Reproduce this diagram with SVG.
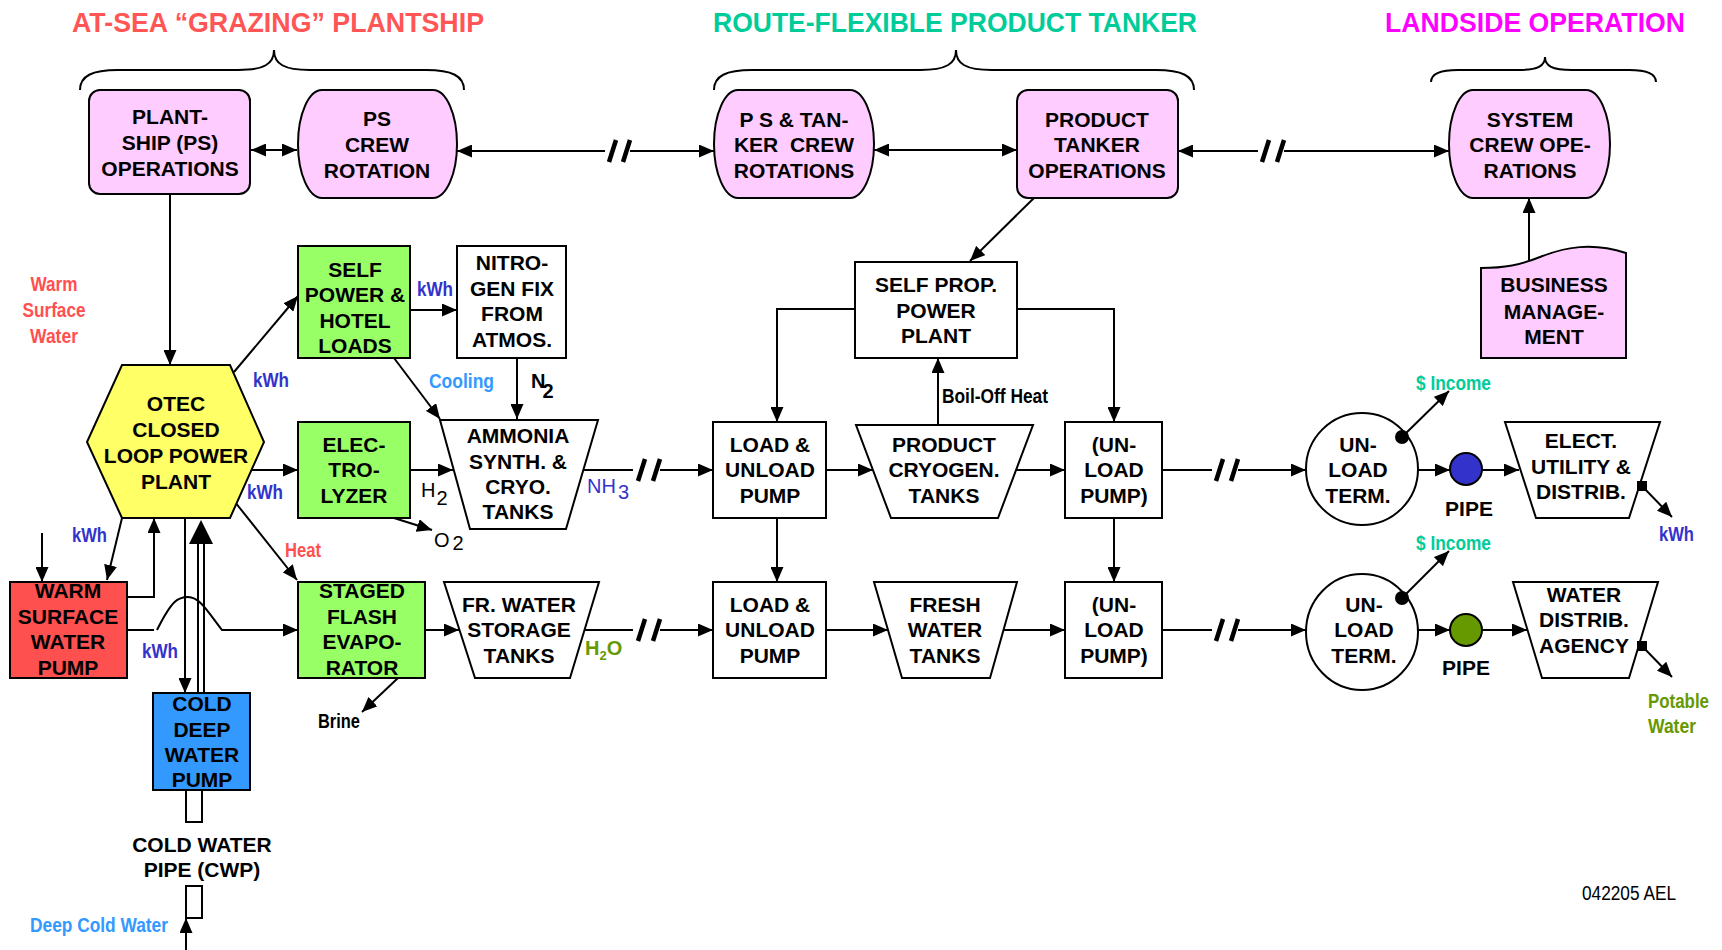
<svg xmlns="http://www.w3.org/2000/svg" width="1722" height="950" viewBox="0 0 1722 950">
<style>
.n{stroke:#000;stroke-width:2}
.pk{fill:#FFCCFF}.gr{fill:#99FF66}.wh{fill:#fff}
.t{font-family:"Liberation Sans",Arial,Helvetica,sans-serif;font-weight:bold;font-size:21px;text-anchor:middle;fill:#000}
.h{font-family:"Liberation Sans",Arial,Helvetica,sans-serif;font-weight:bold;font-size:28px}
.l{font-family:"Liberation Sans",Arial,Helvetica,sans-serif;font-size:20px;font-weight:bold;fill:#000}
.r{font-weight:normal}
.kwh{fill:#3333CC}.red{fill:#FF5050}.lb{fill:#3399FF}.tl{fill:#00CC99}.og{fill:#669900}
.c path,.c line{stroke:#000;stroke-width:2;fill:none}
.c .brk{stroke-width:4.5}
.br{stroke:#000;stroke-width:2;fill:none}
</style>
<defs>
<marker id="a" viewBox="0 0 15 13" refX="15" refY="6.5" markerWidth="15" markerHeight="13" markerUnits="userSpaceOnUse" orient="auto-start-reverse"><path d="M0,0 L15,6.5 L0,13 z" fill="#000"/></marker>
</defs>
<rect width="1722" height="950" fill="#fff"/>

<g id="titles">
<text class="h" x="72" y="32" fill="#FF5555" textLength="412" lengthAdjust="spacingAndGlyphs">AT-SEA “GRAZING” PLANTSHIP</text>
<text class="h" x="713" y="32" fill="#00CC99" textLength="484" lengthAdjust="spacingAndGlyphs">ROUTE-FLEXIBLE PRODUCT TANKER</text>
<text class="h" x="1385" y="32" fill="#FF00FF" textLength="300" lengthAdjust="spacingAndGlyphs">LANDSIDE OPERATION</text>
<path class="br" d="M80,90 C80,76 92,70 118,70 H238 C264,70 274,64 274,50 C274,64 284,70 310,70 H426 C452,70 464,76 464,90"/>
<path class="br" d="M714,90 C714,76 726,70 752,70 H920 C946,70 956,64 956,50 C956,64 966,70 992,70 H1156 C1182,70 1194,76 1194,90"/>
<path class="br" d="M1431,82 C1431,74 1440,70 1458,70 H1518 C1538,70 1545,66 1545,57 C1545,66 1552,70 1572,70 H1629 C1647,70 1656,74 1656,82"/>
</g>

<g class="c" id="connectors">
<path d="M251,150 H297" marker-start="url(#a)" marker-end="url(#a)"/>
<path d="M605,151 H457" marker-end="url(#a)"/>
<path class="brk" d="M609,162 L616,140 M623,162 L630,140"/>
<path d="M630,151 H714" marker-end="url(#a)"/>
<path d="M874,150 H1017" marker-start="url(#a)" marker-end="url(#a)"/>
<path d="M1258,151 H1178" marker-end="url(#a)"/>
<path class="brk" d="M1262,162 L1269,140 M1277,162 L1284,140"/>
<path d="M1284,151 H1449" marker-end="url(#a)"/>
<path d="M1034,198 L970,261" marker-end="url(#a)"/>
<path d="M1529,260 V198" marker-end="url(#a)"/>

<path d="M170,194 V365" marker-end="url(#a)"/>
<path d="M234,372 L298,296" marker-end="url(#a)"/>
<path d="M410,310 H457" marker-end="url(#a)"/>
<path d="M394,358 L440,419" marker-end="url(#a)"/>
<path d="M517,358 V419" marker-end="url(#a)"/>
<path d="M249,470 H298" marker-end="url(#a)"/>
<path d="M410,470 H453" marker-end="url(#a)"/>
<path d="M394,518 L432,530" marker-end="url(#a)"/>
<path d="M583,470 H633"/>
<path class="brk" d="M638,481 L645,459 M653,481 L660,459"/>
<path d="M660,470 H713" marker-end="url(#a)"/>

<path d="M235,502 L297,580" marker-end="url(#a)"/>
<path d="M122,518 L107,580" marker-end="url(#a)"/>
<path d="M42,533 V582" marker-end="url(#a)"/>
<path d="M128,597 H154 V518" marker-end="url(#a)"/>
<path d="M128,630 H154 M157,630 C172,600 178,597 188,597 C200,597 208,612 222,630 H298" marker-end="url(#a)"/>
<path d="M185,518 V693" marker-end="url(#a)"/>
<line x1="198" y1="693" x2="198" y2="540"/>
<line x1="204" y1="693" x2="204" y2="540"/>
<polygon points="201,520 189,544 213,544" fill="#000"/>
<path d="M186,950 V918" marker-end="url(#a)"/>
<path d="M425,630 H459" marker-end="url(#a)"/>
<path d="M398,678 L362,712" marker-end="url(#a)"/>
<path d="M584,630 H633"/>
<path class="brk" d="M638,641 L645,619 M653,641 L660,619"/>
<path d="M660,630 H713" marker-end="url(#a)"/>

<path d="M855,309 H777 V422" marker-end="url(#a)"/>
<path d="M1017,309 H1114 V422" marker-end="url(#a)"/>
<path d="M938,425 V358" marker-end="url(#a)"/>
<path d="M826,470 H873" marker-end="url(#a)"/>
<path d="M1016,470 H1065" marker-end="url(#a)"/>
<path d="M777,518 V582" marker-end="url(#a)"/>
<path d="M1114,518 V582" marker-end="url(#a)"/>
<path d="M826,630 H888" marker-end="url(#a)"/>
<path d="M1003,630 H1065" marker-end="url(#a)"/>

<path d="M1162,470 H1212"/>
<path class="brk" d="M1216,481 L1223,459 M1231,481 L1238,459"/>
<path d="M1238,470 H1306" marker-end="url(#a)"/>
<path d="M1162,630 H1212"/>
<path class="brk" d="M1216,641 L1223,619 M1231,641 L1238,619"/>
<path d="M1238,630 H1306" marker-end="url(#a)"/>
<path d="M1402,437 L1449,391" marker-end="url(#a)"/>
<path d="M1402,598 L1449,551" marker-end="url(#a)"/>
<path d="M1418,470 H1450" marker-end="url(#a)"/>
<path d="M1482,470 H1519" marker-end="url(#a)"/>
<path d="M1418,630 H1450" marker-end="url(#a)"/>
<path d="M1482,630 H1527" marker-end="url(#a)"/>
<path d="M1642,486 L1672,517" marker-end="url(#a)"/>
<path d="M1642,646 L1672,677" marker-end="url(#a)"/>
</g>

<g id="plantship-ops">
<rect class="n pk" x="89" y="90" width="161" height="104" rx="11"/>
<text class="t" x="170" y="124">PLANT-</text><text class="t" x="170" y="150">SHIP (PS)</text><text class="t" x="170" y="176">OPERATIONS</text>
</g>
<g id="ps-crew">
<rect class="n pk" x="298" y="90" width="159" height="108" rx="24" ry="54"/>
<text class="t" x="377" y="126">PS</text><text class="t" x="377" y="152">CREW</text><text class="t" x="377" y="178">ROTATION</text>
</g>
<g id="tanker-crew">
<rect class="n pk" x="714" y="90" width="160" height="108" rx="24" ry="54"/>
<text class="t" x="794" y="127">P S &amp; TAN-</text><text class="t" x="794" y="152" xml:space="preserve">KER  CREW</text><text class="t" x="794" y="178">ROTATIONS</text>
</g>
<g id="tanker-ops">
<rect class="n pk" x="1017" y="90" width="161" height="108" rx="11"/>
<text class="t" x="1097" y="127">PRODUCT</text><text class="t" x="1097" y="152">TANKER</text><text class="t" x="1097" y="178">OPERATIONS</text>
</g>
<g id="system-crew">
<rect class="n pk" x="1449" y="90" width="161" height="108" rx="24" ry="54"/>
<text class="t" x="1530" y="127">SYSTEM</text><text class="t" x="1530" y="152">CREW OPE-</text><text class="t" x="1530" y="178">RATIONS</text>
</g>
<g id="business">
<path class="n pk" d="M1481,358 V268 C1505,268 1520,265 1540,257 C1565,247 1592,242 1626,253 V358 Z"/>
<text class="t" x="1554" y="292">BUSINESS</text><text class="t" x="1554" y="319">MANAGE-</text><text class="t" x="1554" y="344">MENT</text>
</g>
<g id="otec">
<polygon class="n" fill="#FFFF66" points="122,365 230,365 264,442 230,518 122,518 87,442"/>
<text class="t" x="176" y="411">OTEC</text><text class="t" x="176" y="437">CLOSED</text><text class="t" x="176" y="463">LOOP POWER</text><text class="t" x="176" y="489">PLANT</text>
</g>
<g id="self-power">
<rect class="n gr" x="298" y="246" width="112" height="112"/>
<text class="t" x="355" y="277">SELF</text><text class="t" x="355" y="302">POWER &amp;</text><text class="t" x="355" y="328">HOTEL</text><text class="t" x="355" y="353">LOADS</text>
</g>
<g id="nitrogen">
<rect class="n wh" x="457" y="246" width="109" height="112"/>
<text class="t" x="512" y="270">NITRO-</text><text class="t" x="512" y="296">GEN FIX</text><text class="t" x="512" y="321">FROM</text><text class="t" x="512" y="347">ATMOS.</text>
</g>
<g id="electrolyzer">
<rect class="n gr" x="298" y="422" width="112" height="96"/>
<text class="t" x="354" y="452">ELEC-</text><text class="t" x="354" y="477">TRO-</text><text class="t" x="354" y="503">LYZER</text>
</g>
<g id="ammonia">
<polygon class="n wh" points="440,420 598,420 566,529 470,529"/>
<text class="t" x="518" y="443">AMMONIA</text><text class="t" x="518" y="469">SYNTH. &amp;</text><text class="t" x="518" y="494">CRYO.</text><text class="t" x="518" y="519">TANKS</text>
</g>
<g id="warm-pump">
<rect class="n" fill="#FF5050" x="10" y="582" width="117" height="96"/>
<text class="t" x="68" y="598">WARM</text><text class="t" x="68" y="624">SURFACE</text><text class="t" x="68" y="649">WATER</text><text class="t" x="68" y="675">PUMP</text>
</g>
<g id="cold-pump">
<rect class="n" fill="#3399FF" x="153" y="693" width="97" height="97"/>
<text class="t" x="202" y="711">COLD</text><text class="t" x="202" y="737">DEEP</text><text class="t" x="202" y="762">WATER</text><text class="t" x="202" y="787">PUMP</text>
</g>
<g id="cwp">
<rect class="n wh" x="186" y="790" width="16" height="32"/>
<rect class="n wh" x="186" y="886" width="16" height="32"/>
<text class="t" x="202" y="852">COLD WATER</text><text class="t" x="202" y="877">PIPE (CWP)</text>
</g>
<g id="flash">
<rect class="n gr" x="298" y="582" width="127" height="96"/>
<text class="t" x="362" y="598">STAGED</text><text class="t" x="362" y="624">FLASH</text><text class="t" x="362" y="649">EVAPO-</text><text class="t" x="362" y="675">RATOR</text>
</g>
<g id="fr-water">
<polygon class="n wh" points="444,582 599,582 570,678 475,678"/>
<text class="t" x="519" y="612">FR. WATER</text><text class="t" x="519" y="637">STORAGE</text><text class="t" x="519" y="663">TANKS</text>
</g>
<g id="self-prop">
<rect class="n wh" x="855" y="262" width="162" height="96"/>
<text class="t" x="936" y="292">SELF PROP.</text><text class="t" x="936" y="318">POWER</text><text class="t" x="936" y="343">PLANT</text>
</g>
<g id="load-pump-1">
<rect class="n wh" x="713" y="422" width="113" height="96"/>
<text class="t" x="770" y="452">LOAD &amp;</text><text class="t" x="770" y="477">UNLOAD</text><text class="t" x="770" y="503">PUMP</text>
</g>
<g id="cryogen">
<polygon class="n wh" points="856,425 1033,425 998,518 891,518"/>
<text class="t" x="944" y="452">PRODUCT</text><text class="t" x="944" y="477">CRYOGEN.</text><text class="t" x="944" y="503">TANKS</text>
</g>
<g id="unload-pump-1">
<rect class="n wh" x="1065" y="422" width="97" height="96"/>
<text class="t" x="1114" y="452">(UN-</text><text class="t" x="1114" y="477">LOAD</text><text class="t" x="1114" y="503">PUMP)</text>
</g>
<g id="load-pump-2">
<rect class="n wh" x="713" y="582" width="113" height="96"/>
<text class="t" x="770" y="612">LOAD &amp;</text><text class="t" x="770" y="637">UNLOAD</text><text class="t" x="770" y="663">PUMP</text>
</g>
<g id="fresh">
<polygon class="n wh" points="874,582 1017,582 990,678 902,678"/>
<text class="t" x="945" y="612">FRESH</text><text class="t" x="945" y="637">WATER</text><text class="t" x="945" y="663">TANKS</text>
</g>
<g id="unload-pump-2">
<rect class="n wh" x="1065" y="582" width="97" height="96"/>
<text class="t" x="1114" y="612">(UN-</text><text class="t" x="1114" y="637">LOAD</text><text class="t" x="1114" y="663">PUMP)</text>
</g>
<g id="terminal-1">
<ellipse class="n wh" cx="1362" cy="469" rx="56" ry="56"/>
<text class="t" x="1358" y="452">UN-</text><text class="t" x="1358" y="477">LOAD</text><text class="t" x="1358" y="503">TERM.</text>
<circle cx="1402" cy="437" r="7" fill="#000"/>
</g>
<g id="terminal-2">
<ellipse class="n wh" cx="1362" cy="632" rx="56" ry="58"/>
<text class="t" x="1364" y="612">UN-</text><text class="t" x="1364" y="637">LOAD</text><text class="t" x="1364" y="663">TERM.</text>
<circle cx="1402" cy="598" r="7" fill="#000"/>
</g>
<g id="pipe-1">
<circle class="n" fill="#3333CC" cx="1466" cy="469" r="16"/>
<text class="t" x="1469" y="516">PIPE</text>
</g>
<g id="pipe-2">
<circle class="n" fill="#669900" cx="1466" cy="630" r="16"/>
<text class="t" x="1466" y="675">PIPE</text>
</g>
<g id="elect-utility">
<polygon class="n wh" points="1505,422 1660,422 1629,518 1536,518"/>
<text class="t" x="1581" y="448">ELECT.</text><text class="t" x="1581" y="474">UTILITY &amp;</text><text class="t" x="1581" y="499">DISTRIB.</text>
<rect x="1637" y="481" width="10" height="10" fill="#000"/>
</g>
<g id="water-agency">
<polygon class="n wh" points="1513,582 1658,582 1629,678 1542,678"/>
<text class="t" x="1584" y="602">WATER</text><text class="t" x="1584" y="627">DISTRIB.</text><text class="t" x="1584" y="653">AGENCY</text>
<rect x="1637" y="641" width="10" height="10" fill="#000"/>
</g>

<g id="labels">
<text class="l red" x="54" y="291" text-anchor="middle" textLength="47" lengthAdjust="spacingAndGlyphs">Warm</text>
<text class="l red" x="54" y="317" text-anchor="middle" textLength="63" lengthAdjust="spacingAndGlyphs">Surface</text>
<text class="l red" x="54" y="343" text-anchor="middle" textLength="48" lengthAdjust="spacingAndGlyphs">Water</text>
<text class="l kwh" x="253" y="387" textLength="36" lengthAdjust="spacingAndGlyphs">kWh</text>
<text class="l kwh" x="417" y="296" textLength="36" lengthAdjust="spacingAndGlyphs">kWh</text>
<text class="l lb" x="429" y="388" textLength="65" lengthAdjust="spacingAndGlyphs">Cooling</text>
<text class="l" x="531" y="388">N<tspan dx="-3" dy="10">2</tspan></text>
<text class="l r" x="421" y="497">H<tspan dx="1" dy="8">2</tspan></text>
<text class="l r" x="434" y="547">O<tspan dx="3" dy="3">2</tspan></text>
<text class="l r kwh" x="587" y="493">NH<tspan dx="2" dy="6">3</tspan></text>
<text class="l kwh" x="247" y="499" textLength="36" lengthAdjust="spacingAndGlyphs">kWh</text>
<text class="l kwh" x="72" y="542" textLength="35" lengthAdjust="spacingAndGlyphs">kWh</text>
<text class="l red" x="285" y="557" textLength="36" lengthAdjust="spacingAndGlyphs">Heat</text>
<text class="l kwh" x="142" y="658" textLength="36" lengthAdjust="spacingAndGlyphs">kWh</text>
<text class="l" x="318" y="728" textLength="42" lengthAdjust="spacingAndGlyphs">Brine</text>
<text class="l lb" x="30" y="932" textLength="138" lengthAdjust="spacingAndGlyphs">Deep Cold Water</text>
<text class="l og" x="585" y="655" font-size="17">H<tspan font-size="13" dy="5">2</tspan><tspan dy="-5">O</tspan></text>
<text class="l" x="942" y="403" textLength="106" lengthAdjust="spacingAndGlyphs">Boil-Off Heat</text>
<text class="l tl" x="1416" y="390" textLength="75" lengthAdjust="spacingAndGlyphs">$ Income</text>
<text class="l tl" x="1416" y="550" textLength="75" lengthAdjust="spacingAndGlyphs">$ Income</text>
<text class="l kwh" x="1659" y="541" textLength="35" lengthAdjust="spacingAndGlyphs">kWh</text>
<text class="l og" x="1648" y="708" textLength="61" lengthAdjust="spacingAndGlyphs">Potable</text>
<text class="l og" x="1648" y="733" textLength="48" lengthAdjust="spacingAndGlyphs">Water</text>
<text class="l r" x="1582" y="900" textLength="94" lengthAdjust="spacingAndGlyphs">042205 AEL</text>
</g>
</svg>
